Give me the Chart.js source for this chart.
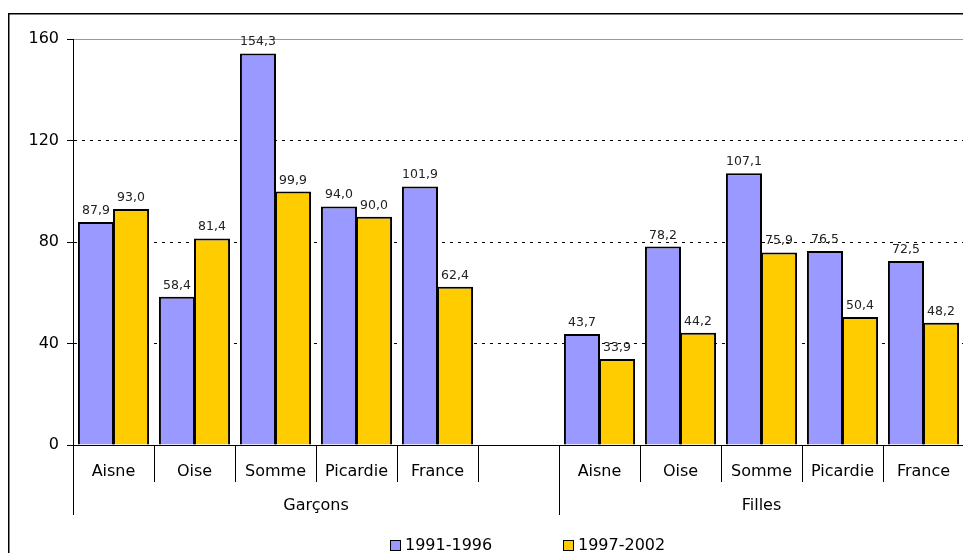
<!DOCTYPE html>
<html>
<head>
<meta charset="utf-8">
<script src="https://cdn.jsdelivr.net/npm/chart.js@4.4.1/dist/chart.umd.min.js"></script>
<style>
  html, body { margin: 0; padding: 0; overflow: hidden; background: #fff; }
  #wrap { position: absolute; left: 0; top: 0; width: 975px; height: 565px; }
</style>
</head>
<body>
<div id="wrap"><canvas id="myChart" width="975" height="565"></canvas></div>
<script>
// categories (empty slot separates the two groups)
const categories = ['Aisne', 'Oise', 'Somme', 'Picardie', 'France', '', 'Aisne', 'Oise', 'Somme', 'Picardie', 'France'];
const groups = ['Garçons', 'Filles'];
const serie1 = [87.9, 58.4, 154.3, 94.0, 101.9, null, 43.7, 78.2, 107.1, 76.5, 72.5];
const serie2 = [93.0, 81.4, 99.9, 90.0, 62.4, null, 33.9, 44.2, 75.9, 50.4, 48.2];
const yTicks = [0, 40, 80, 120, 160];

const FONT = '"DejaVu Sans", Verdana, sans-serif';

// separators, group labels, value labels, legend and frame
const extras = {
  id: 'extras',
  afterDatasetsDraw(chart) {
    const c = chart.ctx;
    // value labels
    c.save();
    c.font = '12.5px ' + FONT;
    c.fillStyle = '#222';
    c.textAlign = 'center';
    c.textBaseline = 'alphabetic';
    chart.data.datasets.forEach((ds, di) => {
      chart.getDatasetMeta(di).data.forEach((bar, i) => {
        if (ds.data[i] == null) return;
        c.fillText(ds.data[i].toFixed(1).replace('.', ','), bar.x, bar.y - 8);
      });
    });
    c.restore();
  },
  afterDraw(chart) {
    const c = chart.ctx;
    const x = chart.scales.x;
    const area = chart.chartArea;
    c.save();
    c.strokeStyle = '#000';
    c.lineWidth = 1;
    // category separators
    for (let i = 0; i <= categories.length; i++) {
      const px = Math.round(x.getPixelForValue(i - 0.5)) + 0.5;
      const long = (i === 0 || i === 6);
      c.beginPath();
      c.moveTo(px, area.bottom);
      c.lineTo(px, area.bottom + (long ? 70 : 37));
      c.stroke();
    }
    // group labels
    c.font = '16px ' + FONT;
    c.fillStyle = '#000';
    c.textAlign = 'center';
    c.textBaseline = 'middle';
    c.fillText(groups[0], x.getPixelForValue(2.5), 506);
    c.fillText(groups[1], x.getPixelForValue(8), 506);
    // legend
    c.textAlign = 'left';
    const legendX = [390, 563];
    chart.data.datasets.forEach((ds, di) => {
      const lx = legendX[di];
      c.fillStyle = ds.backgroundColor;
      c.fillRect(lx + 0.5, 540.5, 10, 10);
      c.strokeRect(lx + 0.5, 540.5, 10, 10);
      c.fillStyle = '#000';
      c.fillText(ds.label, lx + 15, 546);
    });
    // outer frame
    c.lineWidth = 1.5;
    c.strokeRect(8.75, 13.75, 1000, 600);
    c.restore();
  }
};

new Chart(document.getElementById('myChart').getContext('2d'), {
  type: 'bar',
  data: {
    labels: categories,
    datasets: [{
      label: '1991-1996',
      data: serie1,
      backgroundColor: '#9999FF',
      borderColor: '#000',
      borderWidth: 2
    }, {
      label: '1997-2002',
      data: serie2,
      backgroundColor: '#FFCC00',
      borderColor: '#000',
      borderWidth: 2
    }]
  },
  options: {
    responsive: false,
    animation: false,
    layout: { padding: { left: 0, right: 11, top: 39, bottom: 40 } },
    datasets: { bar: { categoryPercentage: 0.865, barPercentage: 1.03 } },
    plugins: { legend: { display: false }, tooltip: { enabled: false } },
    scales: {
      x: {
        grid: { display: false, drawTicks: false },
        border: { display: true, color: '#000', width: 1 },
        ticks: { color: '#000', font: { family: FONT, size: 16 }, padding: 17, maxRotation: 0, autoSkip: false },
        afterFit(s) { s.height = 80; }
      },
      y: {
        min: 0,
        max: 160,
        afterBuildTicks(s) { s.ticks = yTicks.map(v => ({ value: v })); },
        grid: {
          color: ctx => (ctx.tick && ctx.tick.value === 160) ? '#999' : '#000',
          tickColor: '#000',
          tickLength: 6,
          tickBorderDash: [],
          lineWidth: 1
        },
        border: {
          display: true,
          color: '#000',
          width: 1,
          dash: ctx => (ctx.tick && ctx.tick.value !== 160) ? [3, 5] : []
        },
        ticks: { color: '#000', font: { family: FONT, size: 16 }, padding: 8 },
        afterFit(s) { s.width = 73; }
      }
    }
  },
  plugins: [extras]
});
</script>
</body>
</html>
